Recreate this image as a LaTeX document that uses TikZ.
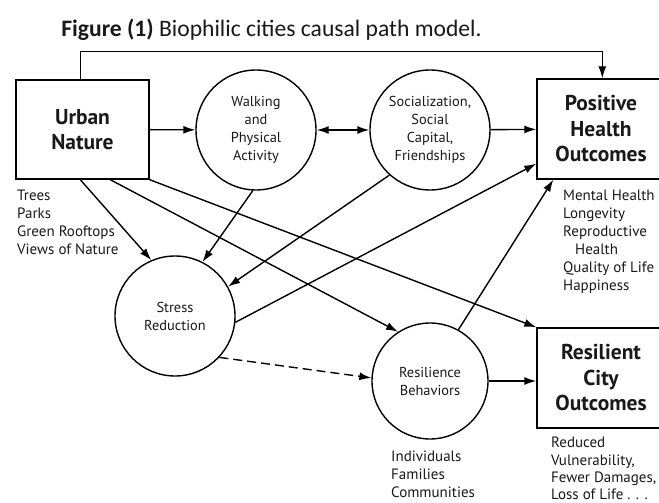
\documentclass[tikz,border=0pt]{standalone}
\usepackage{fontspec}
\setmainfont{PT Sans}
\newfontfamily\titlefont{Carlito}
\usetikzlibrary{arrows.meta,calc}
\begin{document}
\begin{tikzpicture}[x=1pt,y=-1pt,
  every node/.style={text=black!90},
  box/.style={draw, line width=1.4pt, minimum width=133pt, minimum height=99pt, inner sep=0pt, align=center, font=\fontsize{21.5}{25.5}\selectfont\bfseries},
  circ/.style={draw, circle, line width=1.4pt, minimum size=120pt, inner sep=0pt, align=center, font=\fontsize{14.4}{18}\selectfont},
  lbl/.style={inner sep=0pt, align=left, anchor=north west, font=\fontsize{15}{18}\selectfont},
  conn/.style={line width=1.4pt, -{Latex[length=12pt,width=8pt]}},
]
\useasboundingbox (0,0) rectangle (659,503);
\fill[white] (0,0) rectangle (659,503);

\node[font=\titlefont\fontsize{23.6}{28}\selectfont] (title) at (271.5,30) {\textbf{Figure (1)} Biophilic cities causal path model.};

\node[box] (urban) at (82.5,129.5) {Urban\\Nature};
\node[box, minimum width=128pt, minimum height=100pt] (ph) at (601,129) {Positive\\Health\\Outcomes};
\node[box, minimum width=128pt, minimum height=100pt] (resil) at (601,378) {Resilient\\City\\Outcomes};

\node[circ] (walk) at (256,130) {Walking\\and\\Physical\\Activity};
\node[circ] (social) at (430,130) {Socialization,\\Social\\Capital,\\Friendships};
\node[circ] (stress) at (175,316) {Stress\\Reduction};
\node[circ, minimum size=116pt] (res) at (430,381) {Resilience\\Behaviors};

\node[lbl] (urbanlist) at (17,190) {Trees\\Parks\\Green Rooftops\\Views of Nature};
\node[lbl] (phlist) at (563,190) {Mental Health\\Longevity\\Reproductive\\\hspace*{12pt}Health\\Quality of Life\\Happiness};
\node[lbl] (reslist) at (391,451) {Individuals\\Families\\Communities};
\node[lbl, font=\fontsize{15}{17.3}\selectfont] (resillist) at (551,437) {Reduced\\Vulnerability,\\Fewer Damages,\\Loss of Life . . .};

\draw[conn] (urban) -- (walk);
\draw[conn, {Latex[length=12pt,width=8pt]}-{Latex[length=12pt,width=8pt]}] (walk) -- (social);
\draw[conn] (social) -- (ph);
\draw[conn] ($(urban.north west)+(65,0)$) -- ++(0,-28) -| ($(ph.north west)+(66,0)$);
\draw[conn] ($(urban.south west)+(65,0)$) -- (stress.113);
\draw[conn] ($(urban.south west)+(95,0)$) -- (res.123);
\draw[conn] (urban.south east) -- (resil.north west);
\draw[conn] (walk.267) -- (stress.63);
\draw[conn] (social.228) -- (stress.29);
\draw[conn] (stress.354) -- ($(ph.south west)+(0,-16)$);
\draw[conn] (res.61) -- ($(ph.south west)+(17,0)$);
\draw[conn, dash pattern=on 9pt off 5pt] (stress.317) -- (res.177);
\draw[conn] (res.east) -- (res.east -| resil.west);
\end{tikzpicture}
\end{document}
